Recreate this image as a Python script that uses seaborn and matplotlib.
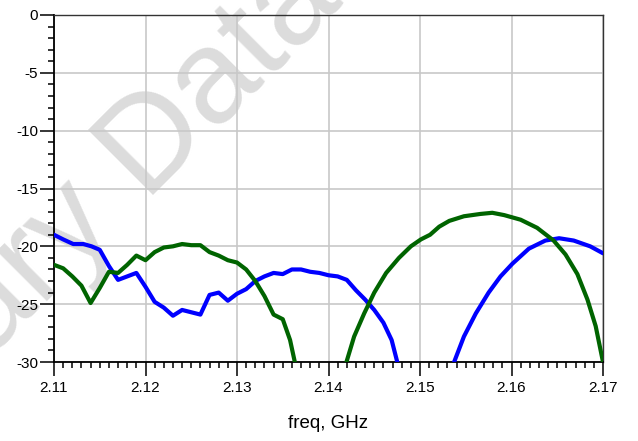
import matplotlib
matplotlib.use("Agg")
import matplotlib.pyplot as plt
import numpy as np
import pandas as pd
import seaborn as sns
from matplotlib.ticker import MultipleLocator

# ---- data ----
freq_blue = [2.110, 2.111, 2.1121, 2.1132, 2.1141, 2.115, 2.116, 2.117, 2.118, 2.119,
             2.120, 2.121, 2.122, 2.123, 2.124, 2.125, 2.126, 2.127, 2.128, 2.129,
             2.130, 2.131, 2.132, 2.133, 2.134, 2.135, 2.136, 2.137, 2.138, 2.139,
             2.140, 2.141, 2.142, 2.143, 2.144, 2.145, 2.146, 2.1469, 2.148, 2.1505,
             2.153, 2.1548, 2.1561, 2.1575, 2.1588, 2.1601, 2.1619, 2.1637, 2.1652,
             2.1668, 2.1686, 2.170]
s_blue = [-19.0, -19.4, -19.8, -19.8, -20.0, -20.3, -21.7, -22.9, -22.6, -22.3,
          -23.5, -24.8, -25.3, -26.0, -25.5, -25.7, -25.9, -24.2, -24.0, -24.7,
          -24.1, -23.7, -23.0, -22.6, -22.3, -22.4, -22.0, -22.0, -22.2, -22.3,
          -22.5, -22.6, -22.9, -23.8, -24.6, -25.5, -26.6, -28.1, -31.5, -40.0,
          -31.5, -27.8, -25.8, -24.0, -22.6, -21.5, -20.2, -19.5, -19.3,
          -19.5, -20.0, -20.6]

freq_green = [2.110, 2.111, 2.112, 2.113, 2.114, 2.115, 2.116, 2.117, 2.118, 2.119,
              2.120, 2.121, 2.122, 2.123, 2.124, 2.125, 2.126, 2.127, 2.128, 2.129,
              2.130, 2.131, 2.132, 2.133, 2.134, 2.135, 2.1358, 2.137, 2.139, 2.1412,
              2.1428, 2.1439, 2.145, 2.1463, 2.1477, 2.149, 2.1501, 2.1511, 2.1521,
              2.1532, 2.1548, 2.1566, 2.1579, 2.1592, 2.161, 2.1628, 2.1646, 2.1659,
              2.1672, 2.1683, 2.1692, 2.170]
s_green = [-21.6, -21.9, -22.6, -23.4, -24.9, -23.6, -22.2, -22.3, -21.6, -20.8,
           -21.2, -20.5, -20.1, -20.0, -19.8, -19.9, -19.9, -20.5, -20.8, -21.2,
           -21.4, -22.0, -23.0, -24.3, -25.9, -26.3, -28.1, -32.5, -40.0, -32.0,
           -27.8, -25.8, -24.0, -22.3, -21.0, -20.0, -19.4, -19.0, -18.3,
           -17.8, -17.4, -17.2, -17.1, -17.3, -17.7, -18.4, -19.5, -20.7,
           -22.4, -24.6, -26.9, -30.0]

x_ticks = [2.11, 2.12, 2.13, 2.14, 2.15, 2.16, 2.17]
x_tick_labels = ["2.11", "2.12", "2.13", "2.14", "2.15", "2.16", "2.17"]
y_ticks = [0, -5, -10, -15, -20, -25, -30]
y_tick_labels = ["0", "-5", "-10", "-15", "-20", "-25", "-30"]
x_label = "freq, GHz"
watermark = "Preliminary Data"

df_blue = pd.DataFrame({"freq": freq_blue, "dB": s_blue})
df_green = pd.DataFrame({"freq": freq_green, "dB": s_green})

# ---- style ----
sns.set_style("white")
plt.rcParams["font.family"] = ["Liberation Sans", "DejaVu Sans"]
plt.rcParams["axes.unicode_minus"] = False

W, H = 638, 441
fig = plt.figure(figsize=(W / 100, H / 100), dpi=100)
ax = fig.add_axes([54 / W, 1 - 362 / H, (603 - 54) / W, (362 - 15) / H])
ax.patch.set_alpha(0)

fig.text(345 / W, 1 - 3 / H, watermark, rotation=45, rotation_mode="anchor",
         ha="right", va="baseline", fontsize=96, color="#dcdcdc", zorder=-1)

sns.lineplot(data=df_blue, x="freq", y="dB", color="#0000ff", linewidth=3,
             ax=ax, zorder=3)
sns.lineplot(data=df_green, x="freq", y="dB", color="#006400", linewidth=3,
             ax=ax, zorder=3)

ax.set_xlim(2.11, 2.17)
ax.set_ylim(-30, 0)
ax.set_xticks(x_ticks)
ax.set_xticklabels(x_tick_labels)
ax.set_yticks(y_ticks)
ax.set_yticklabels(y_tick_labels)
ax.xaxis.set_minor_locator(MultipleLocator(0.001))
ax.yaxis.set_minor_locator(MultipleLocator(1))

ax.tick_params(axis="both", which="major", direction="out", length=10, width=1.1,
               color="black", labelsize=11, labelcolor="black",
               bottom=True, left=True, top=False, right=False)
ax.tick_params(axis="x", which="major", pad=4)
ax.tick_params(axis="y", which="major", pad=1.5)
ax.tick_params(axis="both", which="minor", direction="out", length=4.5, width=1.1,
               color="black", bottom=True, left=True, top=False, right=False)

ax.grid(True, which="major", color="#c8c8c8", linewidth=1.2)
ax.set_axisbelow(True)

for side in ["left", "bottom"]:
    ax.spines[side].set_color("black")
    ax.spines[side].set_linewidth(1.3)
for side in ["top", "right"]:
    ax.spines[side].set_color("#333333")
    ax.spines[side].set_linewidth(1.0)

ax.set_xlabel(x_label, fontsize=13.5, labelpad=14, color="black")
ax.set_ylabel("")

fig.savefig("out.png", dpi=100)
